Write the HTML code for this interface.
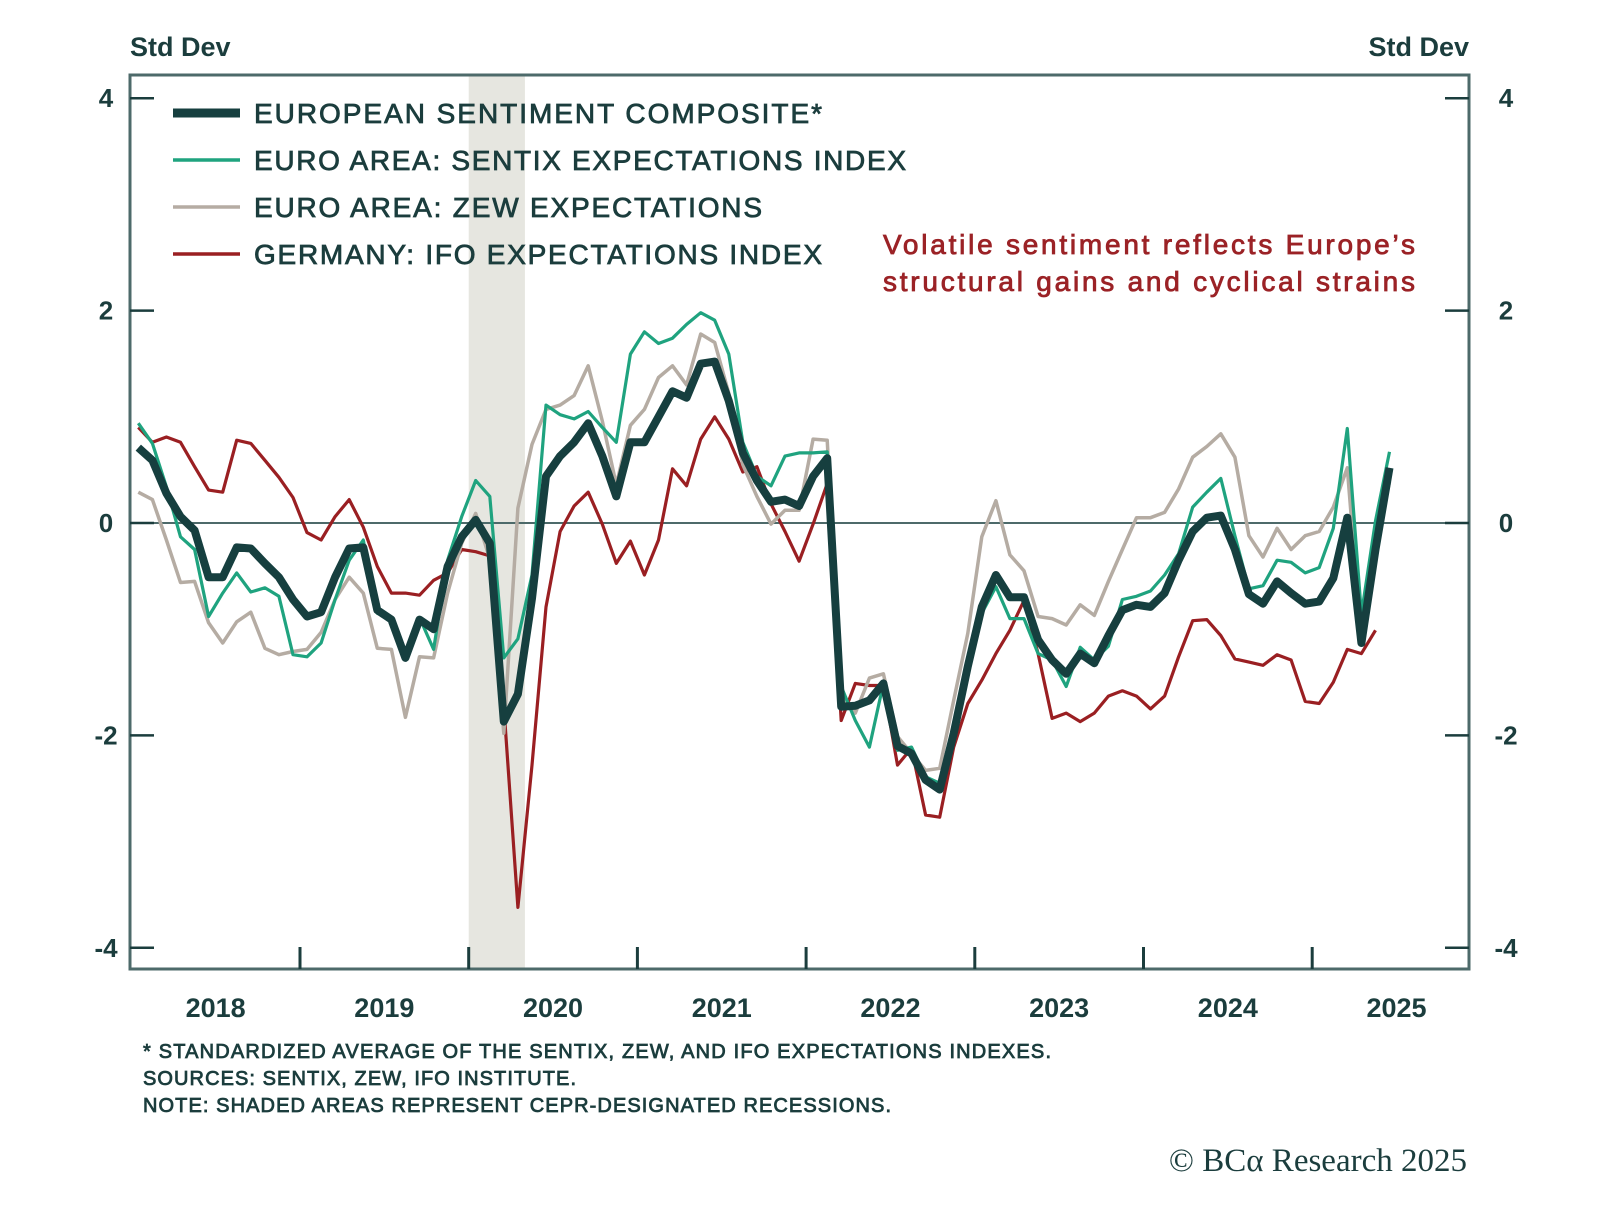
<!DOCTYPE html>
<html><head><meta charset="utf-8"><style>
html,body{margin:0;padding:0;background:#fff;}
svg{display:block;font-family:"Liberation Sans",sans-serif;}
.med{stroke-width:0.8px;paint-order:stroke;}
</style></head><body>
<svg id="chart" width="1600" height="1232" viewBox="0 0 1600 1232">
<rect x="0" y="0" width="1600" height="1232" fill="#fff"/>
<g id="shade"></g>
<g id="grid"></g>
<g id="series"></g>
<text x="130" y="56" font-size="27" font-weight="bold" fill="#1b3d3d">Std Dev</text>
<text x="1469" y="56" font-size="27" font-weight="bold" fill="#1b3d3d" text-anchor="end">Std Dev</text>
<g>
<g><line x1="173" y1="113" x2="240" y2="113" stroke="#163f3f" stroke-width="9"/><text class="med" stroke="#1b3d3d" x="254" y="123" font-size="28" fill="#1b3d3d" textLength="568">EUROPEAN SENTIMENT COMPOSITE*</text></g>
<g><line x1="173" y1="160" x2="240" y2="160" stroke="#1fa37f" stroke-width="3.5"/><text class="med" stroke="#1b3d3d" x="254" y="170" font-size="28" fill="#1b3d3d" textLength="652">EURO AREA: SENTIX EXPECTATIONS INDEX</text></g>
<g><line x1="173" y1="207" x2="240" y2="207" stroke="#b5aca3" stroke-width="3.5"/><text class="med" stroke="#1b3d3d" x="254" y="217" font-size="28" fill="#1b3d3d" textLength="508">EURO AREA: ZEW EXPECTATIONS</text></g>
<g><line x1="173" y1="254" x2="240" y2="254" stroke="#9a1f22" stroke-width="3.5"/><text class="med" stroke="#1b3d3d" x="254" y="264" font-size="28" fill="#1b3d3d" textLength="568">GERMANY: IFO EXPECTATIONS INDEX</text></g>
</g>
<text class="med" stroke="#9b2226" x="1149" y="254" font-size="28" fill="#9b2226" text-anchor="middle" textLength="532">Volatile sentiment reflects Europe’s</text>
<text class="med" stroke="#9b2226" x="1149" y="291" font-size="28" fill="#9b2226" text-anchor="middle" textLength="532">structural gains and cyclical strains</text>
<g font-size="20" fill="#1b3d3d" stroke="#1b3d3d" class="med">
<text x="143" y="1058" textLength="908">* STANDARDIZED AVERAGE OF THE SENTIX, ZEW, AND IFO EXPECTATIONS INDEXES.</text>
<text x="143" y="1085" textLength="433">SOURCES: SENTIX, ZEW, IFO INSTITUTE.</text>
<text x="143" y="1112" textLength="748">NOTE: SHADED AREAS REPRESENT CEPR-DESIGNATED RECESSIONS.</text>
</g>
<text x="1467" y="1171" font-size="33" fill="#1b3d3d" text-anchor="end" font-family="Liberation Serif, serif">© BCα Research 2025</text>
</svg>
<script>
const years = ["2018","2019","2020","2021","2022","2023","2024","2025"];
const yTicks = [4,2,0,-2,-4];
const yTickLabels = ["4","2","0","-2","-4"];
const recessionStartMonth = 24;
const recessionEndMonth = 28;
const composite = [0.71,0.59,0.28,0.06,-0.07,-0.51,-0.51,-0.23,-0.24,-0.38,-0.51,-0.72,-0.88,-0.84,-0.51,-0.24,-0.23,-0.82,-0.91,-1.27,-0.91,-1.0,-0.41,-0.13,
 0.03,-0.19,-1.87,-1.61,-0.71,0.44,0.63,0.76,0.94,0.63,0.25,0.76,0.76,1.0,1.24,1.18,1.5,1.52,1.15,0.66,0.40,0.20,0.22,0.16,0.44,0.61,
 -1.73,-1.72,-1.67,-1.51,-2.1,-2.17,-2.42,-2.51,-1.98,-1.35,-0.79,-0.49,-0.70,-0.70,-1.10,-1.29,-1.42,-1.23,-1.32,
 -1.06,-0.82,-0.77,-0.79,-0.66,-0.35,-0.08,0.05,0.07,-0.25,-0.67,-0.76,-0.55,-0.66,-0.76,-0.74,-0.52,0.05,-1.13,-0.25,0.52];
const sentix = [0.94,0.75,0.34,-0.13,-0.25,-0.88,-0.66,-0.47,-0.65,-0.61,-0.69,-1.24,-1.26,-1.13,-0.72,-0.35,-0.16,-0.85,-0.91,-1.29,-0.89,-1.19,-0.35,0.06,
 0.40,0.25,-1.27,-1.09,-0.49,1.11,1.02,0.98,1.05,0.90,0.76,1.59,1.80,1.69,1.74,1.87,1.98,1.91,1.59,0.76,0.44,0.35,0.63,0.66,0.66,0.67,
 -1.54,-1.86,-2.11,-1.51,-2.14,-2.11,-2.39,-2.45,-1.92,-1.29,-0.85,-0.60,-0.90,-0.90,-1.23,-1.29,-1.54,-1.17,-1.29,
 -1.16,-0.72,-0.69,-0.64,-0.49,-0.29,0.15,0.29,0.42,-0.12,-0.62,-0.59,-0.35,-0.37,-0.47,-0.42,-0.05,0.89,-0.86,0.02,0.67];
const zew = [0.29,0.22,-0.16,-0.56,-0.55,-0.94,-1.13,-0.93,-0.84,-1.18,-1.24,-1.21,-1.19,-1.03,-0.72,-0.51,-0.66,-1.18,-1.19,-1.83,-1.26,-1.27,-0.66,-0.19,
 0.09,-0.34,-1.98,0.14,0.74,1.07,1.11,1.20,1.48,0.96,0.36,0.92,1.07,1.37,1.48,1.30,1.78,1.70,1.22,0.55,0.25,-0.01,0.12,0.12,0.79,0.78,
 -1.61,-1.79,-1.46,-1.42,-2.01,-2.17,-2.33,-2.31,-1.67,-1.04,-0.13,0.21,-0.30,-0.45,-0.88,-0.90,-0.96,-0.77,-0.87,
 -0.55,-0.25,0.05,0.05,0.10,0.32,0.62,0.72,0.84,0.62,-0.12,-0.32,-0.05,-0.25,-0.12,-0.08,0.15,0.52,-1.13,-0.25,0.39];
const ifo = [0.9,0.76,0.81,0.76,0.53,0.31,0.29,0.78,0.75,0.59,0.43,0.24,-0.09,-0.16,0.06,0.22,-0.04,-0.41,-0.66,-0.66,-0.68,-0.54,-0.47,-0.25,
 -0.27,-0.31,-1.72,-3.62,-2.28,-0.79,-0.08,0.16,0.29,-0.01,-0.38,-0.17,-0.49,-0.16,0.51,0.35,0.79,1.0,0.79,0.48,0.53,0.18,-0.08,-0.36,-0.01,0.37,
 -1.86,-1.51,-1.53,-1.53,-2.28,-2.12,-2.75,-2.77,-2.11,-1.70,-1.48,-1.23,-1.01,-0.73,-1.23,-1.84,-1.79,-1.87,-1.79,
 -1.63,-1.58,-1.63,-1.75,-1.63,-1.26,-0.92,-0.91,-1.06,-1.28,-1.31,-1.34,-1.24,-1.29,-1.68,-1.70,-1.50,-1.19,-1.23,-1.01,null];

const NS = "http://www.w3.org/2000/svg";
const L = 130, R = 1469, T = 75, B = 969;
const X0 = 131.3, YEARW = 168.7, MW = YEARW / 12;
function xMonth(m){ return X0 + m * MW; }
function xPt(i){ return X0 + (i + 0.5) * MW; }
function yVal(v){ return 523 - v * 106.2; }
function mk(tag, attrs, parent){ const e = document.createElementNS(NS, tag); for (const k in attrs) e.setAttribute(k, attrs[k]); parent.appendChild(e); return e; }

const shadeG = document.getElementById('shade');
const sh = mk('rect', {x: xMonth(recessionStartMonth), y: T, width: xMonth(recessionEndMonth) - xMonth(recessionStartMonth), height: B - T, fill: '#e6e6e0'}, shadeG);



const g = document.getElementById('grid');
const frame = mk('rect', {x: L, y: T, width: R - L, height: B - T, fill: 'none', stroke: '#4d6a6a', 'stroke-width': 3}, g);


const zl = mk('line', {x1: L, x2: R, y1: yVal(0), y2: yVal(0), stroke: '#4d6a6a', 'stroke-width': 2}, g);


yTicks.forEach((v, k) => {
  const y = yVal(v);
  mk('line', {x1: L, x2: L + 24, y1: y, y2: y, stroke: '#1b3d3d', 'stroke-width': 2.5}, g);
  mk('line', {x1: R - 24, x2: R, y1: y, y2: y, stroke: '#1b3d3d', 'stroke-width': 2.5}, g);
  const tl = mk('text', {x: 106, y: y + 9, 'text-anchor': 'middle', 'font-size': 26, 'font-weight': 'bold', fill: '#1b3d3d'}, g);
  tl.textContent = yTickLabels[k];
  
  
  const tr = mk('text', {x: 1506, y: y + 9, 'text-anchor': 'middle', 'font-size': 26, 'font-weight': 'bold', fill: '#1b3d3d'}, g);
  tr.textContent = yTickLabels[k];
  
  
});
years.forEach((yr, k) => {
  const xs = xMonth(k * 12);
  if (k > 0) mk('line', {x1: xs, x2: xs, y1: B, y2: B - 22, stroke: '#1b3d3d', 'stroke-width': 3}, g);
  const t = mk('text', {x: xMonth(k * 12 + 6), y: 1017, 'text-anchor': 'middle', 'font-size': 27, 'font-weight': 'bold', fill: '#1b3d3d'}, g);
  t.textContent = yr;
  
  
});

const sg = document.getElementById('series');
function drawLine(data, color, w, name){
  let d = '';
  let pen = false;
  data.forEach((v, i) => {
    if (v === null) { pen = false; return; }
    d += (pen ? 'L' : 'M') + xPt(i).toFixed(1) + ' ' + yVal(v).toFixed(1) + ' ';
    pen = true;
  });
  const p = mk('path', {d: d, fill: 'none', stroke: color, 'stroke-width': w, 'stroke-linejoin': 'round', 'stroke-linecap': 'butt'}, sg);
  
  
}
drawLine(ifo, '#9a1f22', 3.2, 'ifo-line');
drawLine(zew, '#b5aca3', 3.5, 'zew-line');
drawLine(sentix, '#1fa37f', 3.2, 'sentix-line');
drawLine(composite, '#163f3f', 8, 'composite-line');
</script>
</body></html>
